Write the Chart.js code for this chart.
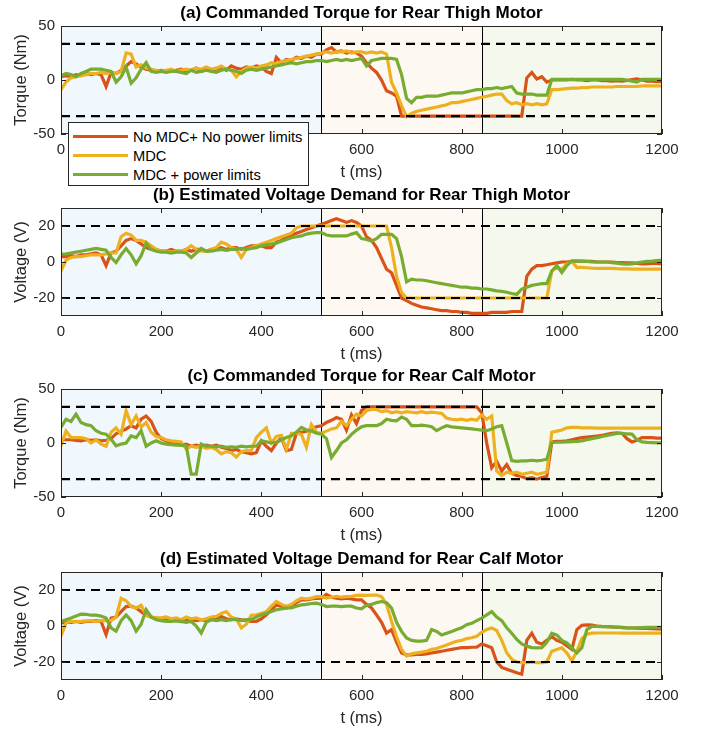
<!DOCTYPE html>
<html>
<head>
<meta charset="utf-8">
<script src="https://cdn.jsdelivr.net/npm/chart.js@4.4.1/dist/chart.umd.min.js"></script>
<style>
  html, body { margin: 0; padding: 0; background: #fff; }
  #wrap { position: relative; width: 702px; height: 729px; overflow: hidden; }
  #wrap canvas { position: absolute; left: 0; }
  #legend {
    position: absolute; left: 68px; top: 122px; width: 241px; height: 64px;
    box-sizing: border-box; border: 1px solid #262626; background: #fff;
    font: 14.7px "Liberation Sans", Arial, sans-serif; color: #000;
    padding-top: 4px;
  }
  #legend .row { height: 19px; display: flex; align-items: center; }
  #legend .swatch { width: 55px; height: 3px; margin-left: 4px; margin-right: 5px; }
</style>
</head>
<body>
<div id="wrap">
  <canvas id="panelA" width="702" height="182" style="top:0px"></canvas>
  <canvas id="panelB" width="702" height="182" style="top:182px"></canvas>
  <canvas id="panelC" width="702" height="182" style="top:363px"></canvas>
  <canvas id="panelD" width="702" height="182" style="top:546px"></canvas>
  <div id="legend"></div>
</div>
<script>
// time axis (ms), shared by every series
const timeMs = [
  0, 10, 20, 30, 40, 50, 60, 70, 80, 90,
  100, 110, 120, 130, 140, 150, 160, 170, 180, 190,
  200, 210, 220, 230, 240, 250, 260, 270, 280, 290,
  300, 310, 320, 330, 340, 350, 360, 370, 380, 390,
  400, 410, 420, 430, 440, 450, 460, 470, 480, 490,
  500, 510, 520, 530, 540, 550, 560, 570, 580, 590,
  600, 610, 620, 630, 640, 650, 660, 670, 680, 690,
  700, 710, 720, 730, 740, 750, 760, 770, 780, 790,
  800, 810, 820, 830, 840, 850, 860, 870, 880, 890,
  900, 910, 920, 930, 940, 950, 960, 970, 980, 990,
  1000, 1010, 1020, 1030, 1040, 1050, 1060, 1070, 1080, 1090,
  1100, 1110, 1120, 1130, 1140, 1150, 1160, 1170, 1180, 1190,
  1200
];

const seriesNames = ['No MDC+ No power limits', 'MDC', 'MDC + power limits'];
const seriesColors = ['#D95319', '#EDB120', '#77AC30'];

const timeTicks = [0, 200, 400, 600, 800, 1000, 1200];
const torqueTicks = [-50, 0, 50];
const voltTicks = [-20, 0, 20];
const torqueLimit = 33.5;
const voltLimit = 20;

// gait phases
const phaseEdges = [0, 520, 840, 1200];
const phaseColors = ['rgb(240,247,253)', 'rgb(253,248,242)', 'rgb(245,249,237)'];

// (a) commanded torque, rear thigh
const aRed = [
  3, 4, 3, 5, 4, 6, 5, 6, 5, -6,
  7, 6, 9, 13, 17, 15, 12, 10, 9, 8,
  9, 8, 8, 9, 10, 8, 9, 11, 8, 10,
  9, 10, 12, 9, 13, 11, 10, 12, 11, 13,
  12, 8, 6, 21, 16, 19, 18, 21, 20, 22,
  21, 24, 24, 28, 30, 26, 27, 25, 26, 25,
  22, 16, 11, 7, 0, -10, -12, -15, -33.5, -33.5,
  -33.5, -33.5, -33.5, -33.5, -33.5, -33.5, -33.5, -33.5, -33.5, -33.5,
  -33.5, -33.5, -33.5, -33.5, -33.5, -33.5, -33.5, -33.5, -33.5, -33.5,
  -33.5, -33.5, -33.5, 2, 7, 1, 3, -2, 0, 0,
  0, 0, 0.5, 0, 0, -0.5, 0, 0, -0.5, -0.5,
  -1, -0.5, -1, -0.5, 0.5, 1, 0, -1, -1, -1.5,
  -1.5
];
const aYellow = [
  -9, -2, 2, 3, 4, 5, 6, 6, 7, 6,
  7, 6, 8, 25, 24, 12, 14, 11, 10, 9,
  8, 9, 10, 8, 9, 10, 9, 11, 10, 12,
  10, 11, 13, 10, 9, 3, 8, 11, 12, 11,
  13, 14, 16, 15, 17, 18, 19, 20, 21, 22,
  23, 24, 25, 26, 25, 26, 26, 27, 25, 26,
  26, 25, 26, 25, 26, 24, -2, -12, -24, -34,
  -31, -29, -28, -27, -26, -25, -24, -23, -21, -21,
  -20, -19, -18, -17, -16, -15, -14, -13, -13, -19,
  -22, -21, -23, -22, -23, -22, -23, -22, -9, -9,
  -8.5, -8, -7.5, -7.5, -7, -7, -6.5, -6.5, -6.5, -6.5,
  -6.5, -6, -6, -6, -6, -6, -5.5, -5.5, -5.5, -5.5,
  -5.5
];
const aGreen = [
  4, 6, 5, 3, 6, 8, 10, 10, 10, 9,
  8, -2, 3, 12, -3, 2, 10, 16, 8, 7,
  8, 7, 8, 8, 7, 6, 9, 7, 8, 9,
  8, 7, 9, 10, 9, 8, 6, 9, 10, 9,
  10, 11, 12, 13, 14, 15, 16, 15, 16, 17,
  17, 18, 18, 17, 18, 19, 18, 19, 18, 19,
  20, 13, 18, 19, 20, 20, 20, 19, 5, -17,
  -21, -16, -16, -15, -15, -15, -14, -13, -12, -12,
  -12, -11, -10, -9, -9, -8, -8, -7, -8, -7,
  -6, -12, -13, -13, -13, -14, -14, -14, 0.5, 0.5,
  0.5, 0.5, 0.5, 0.5, 0.5, 0.5, 0.5, 0.5, 0.5, 0.5,
  0.5, 0.5, 0.5, 0, -1, -2, 0.5, 0.5, 0.5, 0.5,
  0.5
];

// (b) estimated voltage, rear thigh
const bRed = [
  3, 3, 3.5, 3, 4, 4, 4.5, 5, 4, -2,
  5, 6, 9, 12, 13, 12, 10, 8, 7, 7,
  6, 6, 7, 6, 6, 7, 6, 7, 7, 6,
  7, 7, 8, 7, 8, 8, 7, 8, 9, 9,
  9, 8, 8, 11, 12, 14, 15, 16, 17, 18,
  19, 20, 21, 22, 23, 24, 23, 22, 23, 22,
  20, 14, 12, 8, 2, -4, -6, -13, -20, -21.5,
  -23, -24, -25, -25.5, -26, -26.5, -27, -27, -27.5, -27.5,
  -28, -28, -28.5, -28.5, -28.5, -28.5, -28, -28, -28, -28,
  -27.5, -27.5, -27.5, -8, -4, -2, -2, -1.5, -1, -0.5,
  0, 0, 0.3, 0.5, 0.5, 0.3, 0.3, 0, 0, 0,
  0, -0.3, -0.3, -0.5, -0.5, -0.8, -1, -1, -0.8, -0.8,
  -1
];
const bYellow = [
  -5, 1, 2.5, 3, 3, 3.5, 4, 4, 4, 4.5,
  5, 5, 14, 16, 15, 12, 12, 11, 9, 7,
  6, 6, 5.5, 6, 6, 7, 9, 7, 6, 6,
  7, 8, 11, 10, 8, 7, 2.5, 7, 8, 9,
  10, 11, 12, 13, 14, 15, 16, 19, 20, 20,
  20, 20, 20, 20, 20, 20, 20, 20, 20, 20,
  20, 20, 20, 20, 20, 20, 8, -8, -17, -20,
  -20, -20, -20, -20, -20, -20, -20, -20, -20, -20,
  -20, -20, -20, -20, -20, -20, -20, -20, -20, -20,
  -20, -20, -20, -20, -20, -20, -20, -20, -5, -3,
  -4, -1, 0.3, -3, -3, -3.2, -3.4, -3.5, -3.5, -3.5,
  -3.5, -3.7, -3.8, -3.8, -4, -4, -4, -4, -4, -4,
  -4
];
const bGreen = [
  4.3, 4.5, 5, 5.5, 6, 6.5, 7, 7.5, 7, 6.5,
  2.5, -0.3, 4, 7.5, 4, -1, 3.5, 10.5, 7, 6,
  5.5, 5.5, 5, 5.5, 5.5, 5, 2.5, 5, 7.5, 6,
  6, 6.5, 7, 6.5, 7, 7, 7.5, 7, 7.5, 8,
  9, 9.5, 10, 10.5, 11.5, 12.5, 13.5, 14, 14.5, 15.5,
  16, 16.3, 16.3, 15, 14.5, 14.5, 14.5, 14.5, 15.5, 16.3,
  13, 12.5, 11.7, 13, 15.4, 15.4, 15.4, 13, 3, -11,
  -9.5, -10, -10, -10.4, -11, -11.5, -12, -12.5, -13, -13.5,
  -14, -14, -14.5, -14.5, -15, -15, -15.5, -16, -16.3, -16.8,
  -17.5, -18, -15, -14, -13, -12.5, -12, -12, -5, -2,
  -5.8, -2, 0.6, 0.5, 0.3, 0.3, 0, 0, 0, 0,
  -0.3, -0.6, -1, -1.2, -1, -0.5, 0, 0.3, 0.5, 0.8,
  1
];

// (c) commanded torque, rear calf
const cRed = [
  3.5, 3, 3, 2.5, 2, 3, 2.5, 3, 2, 2.5,
  4, 8.6, 11, 13, 16, 14, 22, 25, 20, 10,
  4, 2, 0, -1, -2, -1, -3, -2, -3, -2,
  -3, -2, -4, -5, -7, -6, -8, -9, -10, -9,
  2, -3, -7, 0, 5, -7, -6, 9, 10, 11,
  13, 15, 16, 19, 21, 23.6, 22, 12, 26, 18,
  30, 33.5, 33.5, 33.5, 33.5, 33.5, 33.5, 33.5, 33.5, 33.5,
  33.5, 33.5, 33.5, 33.5, 33.5, 33.5, 33.5, 33.5, 33.5, 33.5,
  33.5, 33.5, 33.5, 33.5, 28, 0, -23, -17, -26, -20,
  -28, -30, -31, -33, -32, -33.5, -32, -31, 1, 1.5,
  1.5, 2, 3, 4, 5, 5.5, 6, 6.5, 7, 8,
  9, 9.5, 9, 4, 1, 2.5, 5, 5, 5, 4.5,
  4.5
];
const cYellow = [
  -2.6, 11, 5, 5, 5, 4, 0, 3, -1, -3,
  10, 14, 8, 30, 17, 25, 15, 19, 10, 6,
  5, 3, 2, 1.5, 1, -5.7, -3, -4, -3, -5,
  -4, -6, -10, -8, -9, -13, -8, -7, -7, 5,
  10, 14, 0, 6, 7, -5.7, 9, 9, 8, -4,
  17, 10, 9, 11, 13, 14, 20, 16, 22, 26.7,
  25, 29.8, 31, 31, 29, 30, 28, 29, 28, 29,
  28.5, 28, 29, 28, 28.5, 28, 27.5, 23, 22, 21.5,
  22, 21, 22, 21, 26, 22, 25, -26, -30, -27,
  -28, -27, -29, -28, -27, -29, -28, -27, 10, 11,
  12, 14, 14.5, 14.5, 14, 14, 14, 13.8, 13.8, 13.8,
  13.7, 13.7, 13.7, 13.7, 13.7, 13.7, 13.7, 13.7, 13.7, 13.7,
  13.7
];
const cGreen = [
  14.4, 22, 20, 26.7, 19, 17, 16, 11.3, 9, 8.2,
  3.5, -2.6, -1, 0, 6.6, 5, 11.3, -3, 0, 2,
  0, -1, -1.5, -2, -2, -2.6, -28.8, -28.8, -1, -3,
  -3, -3.5, -3, -4, -3.5, -4, -3, -3.5, -3, -3,
  2, 1, 0, 0.5, 3, 5, 6.6, 10, 14.4, 12,
  11, 9, 8.2, 4, -13.4, -7, 0, 3, 8, 12,
  15, 16, 16, 16, 18, 22, 21, 20.5, 24, 22,
  16, 16, 16.5, 16, 15, 11.5, 14, 16, 15, 14.5,
  14, 13.5, 13, 12.5, 12, 11.4, 13, 15, 16, 0,
  -16.3, -17, -16.5, -16.5, -16, -16.5, -16, -15, 0.5, 0.7,
  0.8, 1, 1.2, 1.4, 2, 3, 4, 5, 6, 7,
  8, 8.8, 8.8, 8.5, 8.2, 3, 1, 0.5, 0.3, 0.2,
  0.2
];

// (d) estimated voltage, rear calf
const dRed = [
  1.7, 2, 2, 2.5, 2, 2.5, 2.6, 3, 2.5, -4.8,
  4.4, 5, 8, 10.8, 11, 10, 8, 6, 5, 4.4,
  4, 3.5, 3, 3.5, 2.5, 3, 3.5, 3, 3.5, 3,
  3.5, 4, 5.3, 4, 3.5, 4, 3.5, 3, 2.5, 2.6,
  4, 6.2, 9, 11.7, 11, 10, 11, 13, 14.5, 14.5,
  15, 15.4, 15.5, 17.6, 16, 15.5, 15, 15.4, 15, 14.5,
  14.5, 12, 10, 6.2, 2, -3.9, -2, -9, -15, -16,
  -16, -15.8, -15.8, -15.5, -15, -14.5, -14, -13.5, -13, -12.5,
  -12, -12, -11.8, -11.7, -10, -11, -12.1, -20, -23, -24,
  -25, -26, -26.8, -8, -4, -9, -10, -8, -6, -8,
  -9, -11, -13, -2, 0.4, 0.6, 0.5, 0, -0.2, -0.3,
  -0.5, -0.6, -0.8, -1, -1.1, -1.2, -1.3, -1.4, -1.5, -1.6,
  -1.7
];
const dYellow = [
  -5.7, 1.7, 2.6, 2.5, 2.6, 2.8, 3, 2.6, 3, 3,
  3, 5, 15.4, 14, 10.8, 10, 11.5, 6, 5, 4.5,
  4.5, 5, 4, 4.5, 3.5, 5, 4, 4.5, 3.5, 4,
  5, 5.3, 7, 8, 5, 4, -1.1, 1, 6, 6.2,
  7, 8, 11, 13.6, 12, 11, 12, 14, 15.4, 15,
  15.5, 16.3, 16.3, 15.5, 16, 16.5, 16, 16.3, 16.5, 17,
  17.2, 17, 17.2, 17.2, 16.3, 12, 2.6, -6, -13, -16.7,
  -15.5, -14.9, -14.5, -14, -13, -12.5, -11.5, -10.5, -9.5, -8.5,
  -8, -7, -6.5, -5.7, -3.5, -2, -1.1, -2.5, -8, -14.9,
  -18.5, -20, -20.4, -20.4, -20, -20.4, -20.4, -20, -14, -13,
  -12.1, -15, -19.4, -14, -7, -4.5, -4, -3.9, -3.9, -3.9,
  -3.9, -3.9, -4, -4, -4, -4, -4, -4, -4, -4,
  -4
];
const dGreen = [
  2.6, 3.5, 4.4, 5.5, 6.6, 6.5, 6, 6, 5.5, 4.4,
  -1, -2.9, 3, 6.2, 3, -2.9, 1, 9, 5, 3.5,
  3, 2.6, 2.5, 2.8, 2.6, 2, 2.5, 0, -3.9, 2,
  3.5, 3, 3.5, 3, 3.5, 3.5, 3, 3.5, 3.5, 5,
  6.2, 7, 8, 9, 9.5, 10, 10, 11, 11.7, 12,
  12.5, 12.7, 12, 10.8, 11, 11, 10.8, 11, 11, 10,
  9.5, 11.5, 12, 13, 13.6, 13, 10, 2, -3, -6.6,
  -8, -8.4, -8.4, -8, -2, -3, -5, -4, -3, -2,
  -1, 0.7, 1.5, 3, 4.4, 6.2, 8, 5, 3, -1,
  -4, -7.5, -10, -11.2, -12, -12.1, -12, -9, -4, -5,
  -8, -9.4, -12.1, -15, -12, -2, -0.2, -0.2, -0.3, -0.4,
  -0.5, -0.7, -0.9, -1, -1.1, -1, -0.9, -0.8, -0.7, -0.7,
  -0.7
];

const panels = [
  { id: 'panelA', title: '(a) Commanded Torque for Rear Thigh Motor', yLabel: 'Torque (Nm)',
    yMin: -50, yMax: 50, yTicks: torqueTicks, limit: torqueLimit, series: [aRed, aYellow, aGreen] },
  { id: 'panelB', title: '(b) Estimated Voltage Demand for Rear Thigh Motor', yLabel: 'Voltage (V)',
    yMin: -30, yMax: 30, yTicks: voltTicks, limit: voltLimit, series: [bRed, bYellow, bGreen] },
  { id: 'panelC', title: '(c) Commanded Torque for Rear Calf Motor', yLabel: 'Torque (Nm)',
    yMin: -50, yMax: 50, yTicks: torqueTicks, limit: torqueLimit, series: [cRed, cYellow, cGreen] },
  { id: 'panelD', title: '(d) Estimated Voltage Demand for Rear Calf Motor', yLabel: 'Voltage (V)',
    yMin: -30, yMax: 30, yTicks: voltTicks, limit: voltLimit, series: [dRed, dYellow, dGreen] }
];

const FONT = "'Liberation Sans', Arial, Helvetica, sans-serif";
const AXIS_COLOR = '#262626';

// shaded phases, phase boundaries, axes box and inward ticks
const panelDecor = {
  id: 'panelDecor',
  beforeDatasetsDraw(chart) {
    const { ctx, chartArea: a, scales: { x } } = chart;
    ctx.save();
    for (let i = 0; i < phaseColors.length; i++) {
      const x0 = x.getPixelForValue(phaseEdges[i]);
      const x1 = x.getPixelForValue(phaseEdges[i + 1]);
      ctx.fillStyle = phaseColors[i];
      ctx.fillRect(x0, a.top, x1 - x0, a.bottom - a.top);
    }
    ctx.strokeStyle = '#000';
    ctx.lineWidth = 1;
    phaseEdges.slice(1, -1).forEach(v => {
      const px = Math.round(x.getPixelForValue(v)) + 0.5;
      ctx.beginPath();
      ctx.moveTo(px, a.top);
      ctx.lineTo(px, a.bottom);
      ctx.stroke();
    });
    ctx.restore();
  },
  afterDraw(chart) {
    const { ctx, chartArea: a, scales: { x, y } } = chart;
    const tick = 5;
    ctx.save();
    ctx.strokeStyle = AXIS_COLOR;
    ctx.lineWidth = 1;
    ctx.beginPath();
    x.ticks.forEach(t => {
      const px = Math.round(x.getPixelForValue(t.value)) + 0.5;
      ctx.moveTo(px, a.bottom); ctx.lineTo(px, a.bottom - tick);
      ctx.moveTo(px, a.top); ctx.lineTo(px, a.top + tick);
    });
    y.ticks.forEach(t => {
      const py = Math.round(y.getPixelForValue(t.value)) + 0.5;
      ctx.moveTo(a.left, py); ctx.lineTo(a.left + tick, py);
      ctx.moveTo(a.right, py); ctx.lineTo(a.right - tick, py);
    });
    ctx.stroke();
    ctx.strokeRect(Math.round(a.left) + 0.5, Math.round(a.top) + 0.5,
      Math.round(a.right - a.left) - 1, Math.round(a.bottom - a.top) - 1);
    ctx.restore();
  }
};

function buildPanel(p) {
  const datasets = p.series.map((vals, i) => ({
    label: seriesNames[i],
    data: timeMs.map((t, k) => ({ x: t, y: vals[k] })),
    borderColor: seriesColors[i],
    borderWidth: 3.2,
    pointRadius: 0,
    tension: 0,
    order: 3 - i
  }));
  [p.limit, -p.limit].forEach(v => {
    datasets.push({
      label: 'limit',
      data: [{ x: phaseEdges[0], y: v }, { x: phaseEdges[phaseEdges.length - 1], y: v }],
      borderColor: '#000',
      borderWidth: 2.2,
      borderDash: [9, 6],
      pointRadius: 0,
      order: 0
    });
  });

  new Chart(document.getElementById(p.id), {
    type: 'line',
    data: { datasets },
    options: {
      responsive: false,
      animation: false,
      devicePixelRatio: 1,
      events: [],
      layout: { padding: { left: 0, right: 40, top: 0, bottom: 0 } },
      plugins: {
        legend: { display: false },
        tooltip: { enabled: false },
        title: {
          display: true,
          text: p.title,
          fullSize: false,
          color: '#000',
          font: { family: FONT, size: 17, weight: 'bold' },
          padding: { top: 3.6, bottom: 2 }
        }
      },
      scales: {
        x: {
          type: 'linear',
          min: 0,
          max: 1200,
          grid: { display: false, drawTicks: false },
          border: { display: false },
          afterBuildTicks: s => { s.ticks = timeTicks.map(v => ({ value: v })); },
          afterFit: s => { s.height = 48; },
          ticks: { color: AXIS_COLOR, padding: 7, maxRotation: 0,
            font: { family: FONT, size: 15 }, callback: v => String(v) },
          title: { display: true, text: 't (ms)', color: AXIS_COLOR,
            font: { family: FONT, size: 16.5 }, padding: { top: 0, bottom: 0 } }
        },
        y: {
          min: p.yMin,
          max: p.yMax,
          grid: { display: false, drawTicks: false },
          border: { display: false },
          afterBuildTicks: s => { s.ticks = p.yTicks.map(v => ({ value: v })); },
          afterFit: s => { s.width = 61; },
          ticks: { color: AXIS_COLOR, padding: 6, font: { family: FONT, size: 15 },
            callback: v => String(v) },
          title: { display: true, text: p.yLabel, color: AXIS_COLOR,
            font: { family: FONT, size: 16.5 }, padding: { top: 12, bottom: 0 } }
        }
      }
    },
    plugins: [panelDecor]
  });
}

panels.forEach(buildPanel);

// legend box overlapping panel (a)
const legendBox = document.getElementById('legend');
seriesNames.forEach((name, i) => {
  const row = document.createElement('div');
  row.className = 'row';
  const sw = document.createElement('span');
  sw.className = 'swatch';
  sw.style.background = seriesColors[i];
  const label = document.createElement('span');
  label.textContent = name;
  row.appendChild(sw);
  row.appendChild(label);
  legendBox.appendChild(row);
});
</script>
</body>
</html>
